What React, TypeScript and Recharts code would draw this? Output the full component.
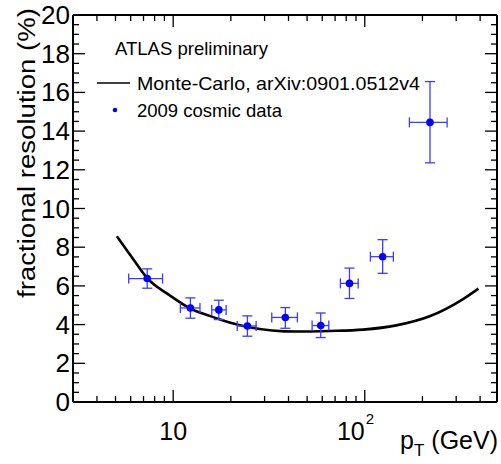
import React from 'react';
import { ComposedChart, XAxis, YAxis, Line, Scatter, ErrorBar } from 'recharts';

// 2009 cosmic data points
const ptX = [7.32, 12.3, 17.3, 24.4, 38.5, 58.9, 83.2, 124, 219];
const ptY = [6.38, 4.86, 4.76, 3.93, 4.37, 3.95, 6.13, 7.51, 14.45];
const ptXErrLo = [1.46, 1.4, 1.4, 2.8, 5.8, 5.8, 8.6, 17, 48];
const ptXErrHi = [1.48, 1.5, 1.6, 2.7, 6.0, 6.0, 9.2, 17, 50];
const ptYErrLo = [0.5, 0.53, 0.5, 0.53, 0.56, 0.62, 0.78, 0.86, 2.09];
const ptYErrHi = [0.5, 0.52, 0.5, 0.52, 0.51, 0.65, 0.79, 0.88, 2.11];

// Monte-Carlo curve
const mcX = [5.08, 6.15, 7.32, 9.57, 12.3, 15.5, 19.7, 24.5, 43.9, 65.5, 98, 146, 218, 326, 392];
const mcY = [8.57, 7.42, 6.4, 5.52, 4.83, 4.45, 4.11, 3.88, 3.64, 3.67, 3.74, 3.96, 4.43, 5.32, 5.86];

// axes
const xDomain = [3, 490];
const yDomain = [0, 20];
const xMajorTicks = [10, 100];
const xMinorTicks = [4, 5, 6, 7, 8, 9, 20, 30, 40, 50, 60, 70, 80, 90, 200, 300, 400];
const yMajorTicks = [0, 2, 4, 6, 8, 10, 12, 14, 16, 18, 20];
const yMinorTicks = [
  0.5, 1, 1.5, 2.5, 3, 3.5, 4.5, 5, 5.5, 6.5, 7, 7.5, 8.5, 9, 9.5, 10.5, 11, 11.5,
  12.5, 13, 13.5, 14.5, 15, 15.5, 16.5, 17, 17.5, 18.5, 19, 19.5,
];

const xTicks = [...xMinorTicks, ...xMajorTicks].sort((a, b) => a - b);
const yTicks = [...yMinorTicks, ...yMajorTicks].sort((a, b) => a - b);

const ptData = ptX.map((x, i) => ({
  x,
  y: ptY[i],
  ex: [ptXErrLo[i], ptXErrHi[i]],
  ey: [ptYErrLo[i], ptYErrHi[i]],
}));
const mcData = mcX.map((x, i) => ({ x, y: mcY[i] }));

const FONT = '"Liberation Sans", Arial, Helvetica, sans-serif';
const MAJOR = 12;
const MINOR = 6;
const TICK_COLOR = '#000';
const TICK_W = 1.3;
const DATA_BLUE = '#0000ff';
const ERR_BLUE = '#3c3cff';

const BottomTick = (props: any) => {
  const { x, y, payload } = props;
  const v = payload.value;
  const major = xMajorTicks.includes(v);
  return (
    <g>
      <line x1={x} y1={y} x2={x} y2={y - (major ? MAJOR : MINOR)} stroke={TICK_COLOR} strokeWidth={TICK_W} />
      {v === 10 && (
        <text x={x} y={y + 38} textAnchor="middle" fontSize={25} fontFamily={FONT} fill="#000">
          10
        </text>
      )}
      {v === 100 && (
        <g>
          <text x={x} y={y + 38} textAnchor="end" fontSize={25} fontFamily={FONT} fill="#000">
            10
          </text>
          <text x={x + 1} y={y + 22} textAnchor="start" fontSize={15} fontFamily={FONT} fill="#000">
            2
          </text>
        </g>
      )}
    </g>
  );
};

const TopTick = (props: any) => {
  const { x, y, payload } = props;
  const major = xMajorTicks.includes(payload.value);
  return <line x1={x} y1={y} x2={x} y2={y + (major ? MAJOR : MINOR)} stroke={TICK_COLOR} strokeWidth={TICK_W} />;
};

const LeftTick = (props: any) => {
  const { x, y, payload } = props;
  const v = payload.value;
  const major = yMajorTicks.includes(v);
  const label = String(v);
  return (
    <g>
      <line x1={x} y1={y} x2={x + (major ? MAJOR : MINOR)} y2={y} stroke={TICK_COLOR} strokeWidth={TICK_W} />
      {major && (
        <text
          x={x - 3}
          y={y}
          dy="0.36em"
          textAnchor="end"
          fontSize={25}
          fontFamily={FONT}
          fill="#000"
          textLength={label.length * 14.5}
          lengthAdjust="spacingAndGlyphs"
        >
          {label}
        </text>
      )}
    </g>
  );
};

const RightTick = (props: any) => {
  const { x, y, payload } = props;
  const major = yMajorTicks.includes(payload.value);
  return <line x1={x} y1={y} x2={x - (major ? MAJOR : MINOR)} y2={y} stroke={TICK_COLOR} strokeWidth={TICK_W} />;
};

const Dot = (props: any) => {
  const { cx, cy } = props;
  if (cx == null || cy == null) return null;
  return <circle cx={cx} cy={cy} r={3.8} fill={DATA_BLUE} />;
};

export default function App() {
  return (
    <div style={{ position: 'absolute', left: 0, top: 0, width: 501, height: 464, background: '#fff' }}>
      <ComposedChart width={501} height={464} margin={{ top: 0, right: 0, bottom: 0, left: 0 }}>
        <XAxis
          xAxisId="b"
          dataKey="x"
          type="number"
          scale="log"
          domain={xDomain}
          allowDataOverflow
          ticks={xTicks}
          interval={0}
          orientation="bottom"
          height={62}
          tickSize={0}
          tickMargin={0}
          tickLine={false}
          tick={<BottomTick />}
          axisLine={{ stroke: '#000', strokeWidth: 2 }}
        />
        <XAxis
          xAxisId="t"
          dataKey="x"
          type="number"
          scale="log"
          domain={xDomain}
          allowDataOverflow
          ticks={xTicks}
          interval={0}
          orientation="top"
          height={15}
          tickSize={0}
          tickMargin={0}
          tickLine={false}
          tick={<TopTick />}
          axisLine={{ stroke: '#000', strokeWidth: 2 }}
        />
        <YAxis
          yAxisId="l"
          dataKey="y"
          type="number"
          domain={yDomain}
          allowDataOverflow
          ticks={yTicks}
          interval={0}
          orientation="left"
          width={73}
          tickSize={0}
          tickMargin={0}
          tickLine={false}
          tick={<LeftTick />}
          axisLine={{ stroke: '#000', strokeWidth: 2 }}
        />
        <YAxis
          yAxisId="r"
          dataKey="y"
          type="number"
          domain={yDomain}
          allowDataOverflow
          ticks={yTicks}
          interval={0}
          orientation="right"
          width={4}
          tickSize={0}
          tickMargin={0}
          tickLine={false}
          tick={<RightTick />}
          axisLine={{ stroke: '#000', strokeWidth: 2 }}
        />
        <Line
          xAxisId="b"
          yAxisId="l"
          data={mcData}
          dataKey="y"
          type="monotone"
          stroke="#000"
          strokeWidth={2.6}
          dot={false}
          activeDot={false}
          isAnimationActive={false}
        />
        <Scatter
          xAxisId="b"
          yAxisId="l"
          data={ptData}
          dataKey="y"
          shape={<Dot />}
          isAnimationActive={false}
        >
          <ErrorBar dataKey="ex" direction="x" width={5} stroke={ERR_BLUE} strokeWidth={1.3} isAnimationActive={false} />
          <ErrorBar dataKey="ey" direction="y" width={5} stroke={ERR_BLUE} strokeWidth={1.3} isAnimationActive={false} />
        </Scatter>
      </ComposedChart>
      <svg
        width={501}
        height={464}
        style={{ position: 'absolute', left: 0, top: 0, pointerEvents: 'none' }}
        fontFamily={FONT}
      >
        <text
          transform="translate(35,8) rotate(-90)"
          textAnchor="end"
          fontSize={23}
          fill="#000"
          textLength={290}
          lengthAdjust="spacingAndGlyphs"
        >
          fractional resolution (%)
        </text>
        <text x={498} y={449} textAnchor="end" fontSize={25} fill="#000">
          p<tspan fontSize={17} dy={7}>T</tspan>
          <tspan dy={-7}> (GeV)</tspan>
        </text>
        <text x={115} y={55} fontSize={17.5} fill="#000" textLength={153} lengthAdjust="spacingAndGlyphs">
          ATLAS preliminary
        </text>
        <line x1={97} y1={83} x2={130} y2={83} stroke="#000" strokeWidth={1.5} />
        <text x={137} y={90} fontSize={18.5} fill="#000" textLength={283} lengthAdjust="spacingAndGlyphs">
          Monte-Carlo, arXiv:0901.0512v4
        </text>
        <circle cx={115} cy={110} r={2.3} fill={DATA_BLUE} />
        <text x={137} y={117} fontSize={18.5} fill="#000">
          2009 cosmic data
        </text>
      </svg>
    </div>
  );
}
